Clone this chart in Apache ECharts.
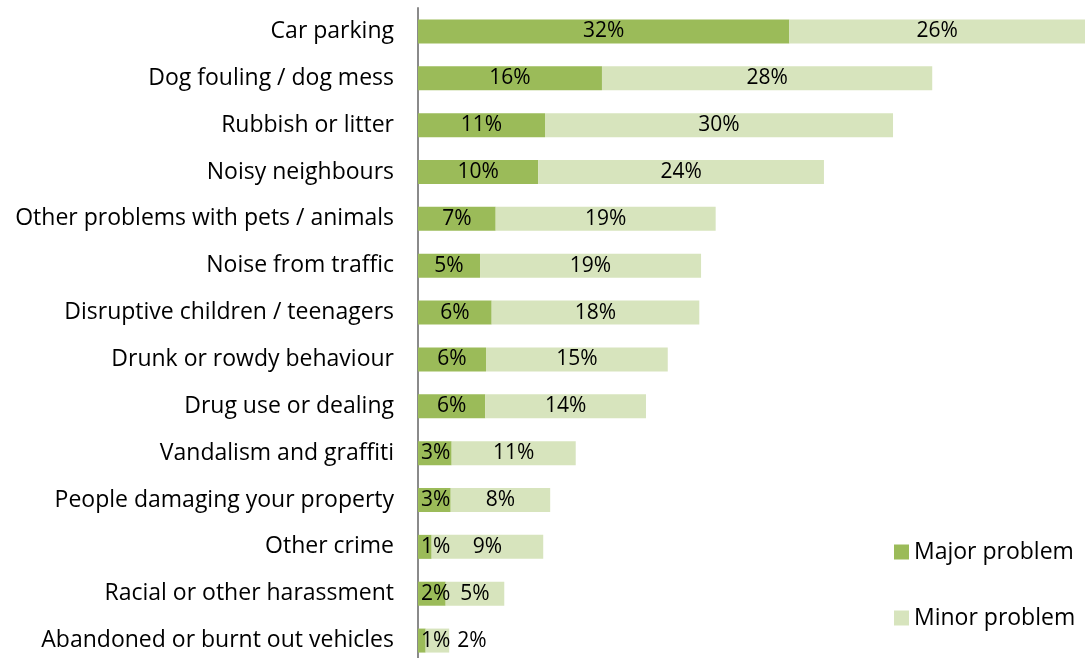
<!DOCTYPE html>
<html>
<head>
<meta charset="utf-8">
<script src="https://cdn.jsdelivr.net/npm/echarts@6/dist/echarts.min.js"></script>
<style>
html,body{margin:0;padding:0;background:#fff;}
#chart{width:1085px;height:658px;}
</style>
</head>
<body>
<div id="chart"></div>
<script>
const categories = [
  "Car parking",
  "Dog fouling / dog mess",
  "Rubbish or litter",
  "Noisy neighbours",
  "Other problems with pets / animals",
  "Noise from traffic",
  "Disruptive children / teenagers",
  "Drunk or rowdy behaviour",
  "Drug use or dealing",
  "Vandalism and graffiti",
  "People damaging your property",
  "Other crime",
  "Racial or other harassment",
  "Abandoned or burnt out vehicles"
];
const majorProblem = [31.55, 15.63, 10.79, 10.22, 6.60, 5.27, 6.26, 5.78, 5.72, 2.86, 2.78, 1.16, 2.35, 0.65];
const minorProblem = [25.9, 28.06, 29.57, 24.27, 18.69, 18.78, 17.64, 15.44, 13.65, 10.54, 8.45, 9.48, 4.98, 2.00];
const seriesNames = ["Major problem", "Minor problem"];

const FONT = "'Open Sans', Lato, sans-serif";
const chart = echarts.init(document.getElementById('chart'), null, {renderer: 'canvas'});
const GRID_LEFT = 418;
const LABEL_MIN_X = 421;
const LABEL_GAP = 7;
const majorLabelRight = [];

const labelCfg = {
  show: true,
  position: 'inside',
  color: '#000',
  fontFamily: FONT,
  fontSize: 21,
  formatter: p => Math.round(p.value) + '%'
};

function layoutLabel(p) {
  const r = p.labelRect;
  if (!r) return;
  let dx = 0;
  if (p.seriesIndex === 0) {
    if (r.x < LABEL_MIN_X) dx = LABEL_MIN_X - r.x;
    majorLabelRight[p.dataIndex] = r.x + dx + r.width;
  } else {
    const prev = majorLabelRight[p.dataIndex];
    if (prev != null && r.x < prev + LABEL_GAP) dx = prev + LABEL_GAP - r.x;
  }
  return dx ? {dx: dx} : {};
}

chart.setOption({
  animation: false,
  backgroundColor: '#fff',
  textStyle: {fontFamily: FONT},
  grid: {left: GRID_LEFT, right: 0, top: 8, height: 656, containLabel: false, outerBoundsMode: 'none'},
  legend: {
    orient: 'vertical',
    left: 889,
    top: 535,
    itemWidth: 15,
    itemHeight: 15,
    itemGap: 42,
    icon: 'rect',
    textStyle: {fontFamily: FONT, fontSize: 23, lineHeight: 24, color: '#000'},
    data: seriesNames
  },
  xAxis: {
    type: 'value',
    min: 0,
    max: 56.67,
    show: false
  },
  yAxis: {
    type: 'category',
    inverse: true,
    data: categories,
    axisLine: {show: true, lineStyle: {color: '#8a8a8a', width: 2}},
    axisTick: {show: false},
    axisLabel: {color: '#000', fontFamily: FONT, fontSize: 23, margin: 24}
  },
  series: [
    {
      name: seriesNames[0],
      type: 'bar',
      stack: 'total',
      barWidth: 24,
      itemStyle: {color: '#9BBB59'},
      label: labelCfg,
      labelLayout: layoutLabel,
      data: majorProblem
    },
    {
      name: seriesNames[1],
      type: 'bar',
      stack: 'total',
      barWidth: 24,
      itemStyle: {color: '#D7E4BD'},
      label: labelCfg,
      labelLayout: layoutLabel,
      data: minorProblem
    }
  ]
});
</script>
</body>
</html>
